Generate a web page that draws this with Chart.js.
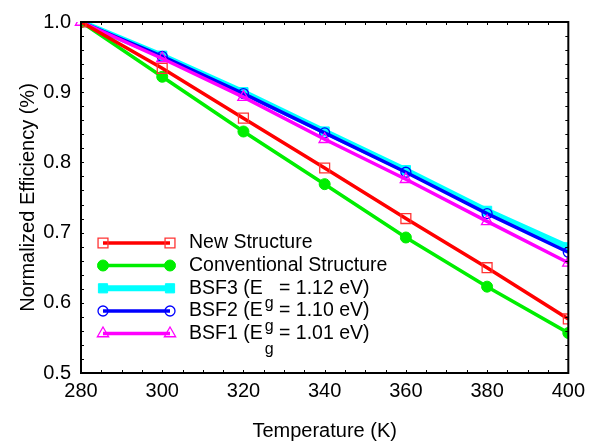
<!DOCTYPE html>
<html>
<head>
<meta charset="utf-8">
<script src="https://cdn.jsdelivr.net/npm/chart.js@4/dist/chart.umd.min.js"></script>
<style>
  html, body { margin: 0; padding: 0; background: #fff; }
  canvas { display: block; }
</style>
</head>
<body>
<canvas id="chart" width="591" height="445"></canvas>
<script>
// Data
var temperatures = [280, 300, 320, 340, 360, 380, 400];
var newStructure = [1.0, 0.934, 0.863, 0.792, 0.720, 0.650, 0.577];
var conventional = [1.0, 0.922, 0.844, 0.769, 0.693, 0.623, 0.557];
var bsf3 = [1.0, 0.952, 0.900, 0.844, 0.789, 0.731, 0.679];
var bsf2 = [1.0, 0.951, 0.898, 0.842, 0.786, 0.727, 0.672];
var bsf1 = [1.0, 0.948, 0.893, 0.833, 0.776, 0.716, 0.657];

var seriesNames = ['New Structure', 'Conventional Structure', 'BSF3 (E', 'BSF2 (E', 'BSF1 (E'];
var seriesTails = ['', '', ' = 1.12 eV)', ' = 1.10 eV)', ' = 1.01 eV)'];
var xTickStep = 20, yTickStep = 0.1;
var xMinorStep = 5, yMinorStep = 0.02;

var FONT = '"Liberation Sans", Arial, Helvetica, sans-serif';

function pts(arr) {
    return arr.map(function(v, i) { return {x: temperatures[i], y: v}; });
}

var datasets = [
    {label: seriesNames[0], data: pts(newStructure), borderColor: '#ff0000', borderWidth: 3.5,
     pointStyle: 'rect', pointRadius: 7, pointBorderWidth: 1.3, pointBorderColor: '#ff3333',
     pointBackgroundColor: 'rgba(0,0,0,0)', order: 1},
    {label: seriesNames[1], data: pts(conventional), borderColor: '#00ee00', borderWidth: 3.5,
     pointStyle: 'circle', pointRadius: 5.5, pointBorderWidth: 1, pointBorderColor: '#00ee00',
     pointBackgroundColor: '#00ee00', order: 2},
    {label: seriesNames[2], data: pts(bsf3), borderColor: '#00ffff', borderWidth: 6,
     pointStyle: 'rect', pointRadius: 6.5, pointBorderWidth: 1, pointBorderColor: '#00ffff',
     pointBackgroundColor: '#00ffff', order: 5},
    {label: seriesNames[3], data: pts(bsf2), borderColor: '#0000ff', borderWidth: 3.5,
     pointStyle: 'circle', pointRadius: 5, pointBorderWidth: 1.3, pointBorderColor: '#0000ff',
     pointBackgroundColor: 'rgba(0,0,0,0)', order: 4},
    {label: seriesNames[4], data: pts(bsf1), borderColor: '#ff00ff', borderWidth: 3.5,
     pointStyle: 'triangle', pointRadius: 6.5, pointBorderWidth: 1.3, pointBorderColor: '#ff00ff',
     pointBackgroundColor: 'rgba(0,0,0,0)', order: 3, clip: {left: 8, top: 0, right: 0, bottom: 0}}
];

// Small marker painter for the legend
function drawMarker(ctx, ds, x, y) {
    var r = ds.pointRadius;
    ctx.save();
    ctx.lineWidth = ds.pointBorderWidth;
    ctx.strokeStyle = ds.pointBorderColor;
    ctx.fillStyle = ds.pointBackgroundColor;
    ctx.beginPath();
    if (ds.pointStyle === 'rect') {
        var s = Math.SQRT1_2 * r;
        ctx.rect(x - s, y - s, 2 * s, 2 * s);
    } else if (ds.pointStyle === 'circle') {
        ctx.arc(x, y, r, 0, Math.PI * 2);
    } else if (ds.pointStyle === 'triangle') {
        ctx.moveTo(x, y - r);
        ctx.lineTo(x + r * 0.866, y + r * 0.5);
        ctx.lineTo(x - r * 0.866, y + r * 0.5);
        ctx.closePath();
    }
    ctx.fill();
    ctx.stroke();
    ctx.restore();
}

var framePlugin = {
    id: 'frame',
    afterDatasetsDraw: function(chart) {
        var ctx = chart.ctx, a = chart.chartArea;
        var xs = chart.scales.x, ys = chart.scales.y;
        ctx.save();
        ctx.strokeStyle = '#000';
        ctx.lineWidth = 2;
        ctx.strokeRect(a.left, a.top, a.right - a.left, a.bottom - a.top);

        // inward ticks on all four sides
        ctx.lineWidth = 1;
        ctx.beginPath();
        for (var t = xs.min; t <= xs.max + 1e-9; t += xMinorStep) {
            var px = Math.round(xs.getPixelForValue(t)) + 0.5;
            ctx.moveTo(px, a.bottom); ctx.lineTo(px, a.bottom - 3);
            ctx.moveTo(px, a.top); ctx.lineTo(px, a.top + 3);
        }
        for (var v = ys.min; v <= ys.max + 1e-9; v += yMinorStep) {
            var py = Math.round(ys.getPixelForValue(v)) + 0.5;
            ctx.moveTo(a.left, py); ctx.lineTo(a.left + 3, py);
            ctx.moveTo(a.right, py); ctx.lineTo(a.right - 3, py);
        }
        ctx.stroke();

        // legend
        var rowY = [243, 265.5, 288.3, 311, 333.5];
        var x0 = 103, x1 = 170, tx = 189;
        chart.data.datasets.forEach(function(ds, i) {
            var y = rowY[i];
            ctx.strokeStyle = ds.borderColor;
            ctx.lineWidth = ds.borderWidth;
            ctx.beginPath();
            ctx.moveTo(x0, y); ctx.lineTo(x1, y);
            ctx.stroke();
            drawMarker(ctx, ds, x0, y);
            drawMarker(ctx, ds, x1, y);

            ctx.fillStyle = '#000';
            ctx.font = '19.5px ' + FONT;
            ctx.textBaseline = 'middle';
            ctx.textAlign = 'left';
            ctx.fillText(ds.label, tx, y);
            if (seriesTails[i]) {
                var w = ctx.measureText(ds.label).width;
                ctx.font = '16px ' + FONT;
                ctx.textBaseline = 'alphabetic';
                ctx.fillText('g', tx + w + 2, y + 20);
                var gw = ctx.measureText('g').width;
                ctx.font = '19.5px ' + FONT;
                ctx.textBaseline = 'middle';
                ctx.fillText(seriesTails[i], tx + w + 2 + gw, y);
            }
        });
        ctx.restore();
    }
};

var ctx = document.getElementById('chart').getContext('2d');
new Chart(ctx, {
    type: 'line',
    data: {datasets: datasets},
    options: {
        responsive: false,
        animation: false,
        layout: {padding: {top: 18, right: 20, left: 0, bottom: 0}},
        plugins: {legend: {display: false}, tooltip: {enabled: false}},
        elements: {line: {tension: 0}},
        scales: {
            x: {
                type: 'linear', min: 280, max: 400,
                ticks: {stepSize: xTickStep, color: '#000', font: {family: FONT, size: 20}, padding: 6},
                grid: {display: false, drawTicks: false},
                border: {display: false},
                title: {display: true, text: 'Temperature (K)', color: '#000',
                        font: {family: FONT, size: 20}, padding: {top: 0, bottom: 2}},
                afterFit: function(s) { s.height = 72; }
            },
            y: {
                type: 'linear', min: 0.5, max: 1.0,
                ticks: {stepSize: yTickStep, color: '#000', font: {family: FONT, size: 20}, padding: 10,
                        callback: function(v) { return v.toFixed(1); }},
                grid: {display: false, drawTicks: false},
                border: {display: false},
                title: {display: true, text: 'Normalized Efficiency (%)', color: '#000',
                        font: {family: FONT, size: 20}, padding: {top: 16, bottom: 0}},
                afterFit: function(s) { s.width = 81; }
            }
        }
    },
    plugins: [framePlugin]
});
</script>
</body>
</html>
